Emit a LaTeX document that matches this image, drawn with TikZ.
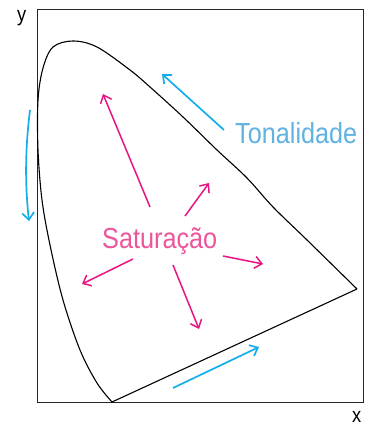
\documentclass[tikz,border=0pt]{standalone}
\usepackage{fontspec}
\usetikzlibrary{arrows.meta}
\newfontfamily\condfont[FakeStretch=0.87]{Liberation Sans}
\definecolor{cieblue}{RGB}{20,175,235}
\definecolor{cietextblue}{RGB}{95,178,226}
\definecolor{ciepink}{RGB}{232,20,130}
\definecolor{cietextpink}{RGB}{236,85,155}
\begin{document}
\begin{tikzpicture}[x=1pt,y=-1pt,
  hue/.style={draw=cieblue,line width=1.7pt,-{Straight Barb[length=7pt,width=12pt]}},
  sat/.style={draw=ciepink,line width=1.5pt,-{Straight Barb[length=7pt,width=12pt]}},
  lbl/.style={inner sep=0pt,anchor=base west,font=\condfont\fontsize{29}{29}\selectfont},
  axlbl/.style={inner sep=0pt,anchor=base west,font=\condfont\fontsize{21}{21}\selectfont}]
\useasboundingbox (0,0) rectangle (365,427);
\fill[white] (0,0) rectangle (365,427);
% frame
\draw[line width=1pt,black!85] (37,10) rectangle (363,402);
\node[axlbl] (ylab) at (17,22) {y};
\node[axlbl] (xlab) at (352,422) {x};
% spectral locus
\draw[line width=1.1pt,black] plot[smooth,tension=0.55] coordinates {
  (357,289) (307,240) (273,207) (247,178) (217,150) (183,117) (150,87) (130,70)
  (97,47) (73,41) (53,47) (43,68) (38,100) (38,150) (42,200) (50,245) (63,300) (80,350) (97,383) (112,402)}
  -- (357,289);
% hue arrows
\coordinate (h1s) at (30,110); \coordinate (h1e) at (29,221);
\draw[hue] (h1s) .. controls (25,150) and (25,185) .. (h1e);
\coordinate (h2s) at (224,130); \coordinate (h2e) at (162,74);
\draw[hue] (h2s) -- (h2e);
\coordinate (h3s) at (173,388); \coordinate (h3e) at (259,347);
\draw[hue] (h3s) -- (h3e);
\node[lbl,text=cietextblue] (ton) at (235,144) {Tonalidade};
% saturation arrows
\node[lbl,text=cietextpink] (sat) at (102,248) {Saturação};
\coordinate (s1s) at (150,207); \coordinate (s1e) at (103,94);
\coordinate (s2s) at (185,216); \coordinate (s2e) at (209,183);
\coordinate (s3s) at (223,256); \coordinate (s3e) at (263,264);
\coordinate (s4s) at (173,265); \coordinate (s4e) at (199,329);
\coordinate (s5s) at (133,259); \coordinate (s5e) at (82,284);
\draw[sat] (s1s) -- (s1e);
\draw[sat] (s2s) -- (s2e);
\draw[sat] (s3s) -- (s3e);
\draw[sat] (s4s) -- (s4e);
\draw[sat] (s5s) -- (s5e);
\end{tikzpicture}
\end{document}
